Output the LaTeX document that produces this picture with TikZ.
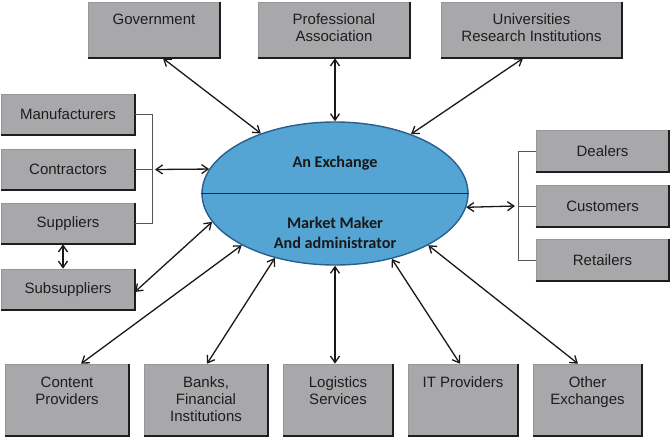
\documentclass[tikz,border=0pt]{standalone}
\usepackage{fontspec}
\setmainfont{Liberation Sans}
\newfontfamily\ellfont{Carlito}
\usetikzlibrary{shapes.geometric,arrows.meta}
\definecolor{boxgray}{RGB}{168,168,171}
\definecolor{boxedge}{RGB}{150,150,152}
\definecolor{shadowc}{RGB}{30,30,32}
\definecolor{textdark}{RGB}{30,30,30}
\definecolor{arrowc}{RGB}{25,25,25}
\definecolor{brkc}{RGB}{85,85,85}
\definecolor{ellblue}{RGB}{84,164,212}
\definecolor{ellline}{RGB}{40,95,145}
\newcommand\boxfnt{\fontsize{15}{17}\selectfont}
\newcommand\ellfnt{\ellfont\bfseries\fontsize{16.2}{20}\selectfont}
\newcommand\shadowedge[1]{\draw[shadowln] (#1.south west) -- (#1.south east) -- (#1.north east);}
\begin{document}
\begin{tikzpicture}[x=1pt,y=-1pt,
  box/.style={draw=boxedge, fill=boxgray, line width=0.6pt, inner sep=0pt,
    font=\boxfnt, text=textdark, align=center},
  topbox/.style={box, minimum width=#1, minimum height=56pt},
  sidebox/.style={box, minimum width=133pt, minimum height=41pt},
  botbox/.style={box, minimum width=#1, minimum height=72pt},
  boxtext/.style={anchor=north, inner sep=0pt, font=\boxfnt, text=textdark, align=center},
  shadowln/.style={draw=shadowc, line width=2pt},
  conn/.style={draw=arrowc, line width=1.3pt,
    {Straight Barb[length=6.5pt,width=9pt]}-{Straight Barb[length=6.5pt,width=9pt]}},
  brk/.style={draw=brkc, line width=0.9pt}]
\useasboundingbox[fill=white] (0,0) rectangle (671,439);

% top boxes
\node[topbox=132pt] (gov) at (154,30) {};
\node[topbox=151pt] (prof) at (334,30) {};
\node[topbox=181pt] (univ) at (531.5,30) {};
\foreach \b in {gov,prof,univ}{\shadowedge{\b}}
\node[boxtext] (govt) at ([yshift=-12]gov.north) {Government};
\node[boxtext] (proft) at ([yshift=-12]prof.north) {Professional\\Association};
\node[boxtext] (univt) at ([yshift=-12]univ.north) {Universities\\Research Institutions};

% left boxes
\node[sidebox] (manu) at (68,114.5) {Manufacturers};
\node[sidebox] (contr) at (68,169.5) {Contractors};
\node[sidebox] (supp) at (68,223.5) {Suppliers};
\node[sidebox] (subs) at (68,289.5) {Subsuppliers};
\foreach \b in {manu,contr,supp,subs}{\shadowedge{\b}}

% right boxes
\node[sidebox] (deal) at (602.5,151) {Dealers};
\node[sidebox] (cust) at (602.5,206) {Customers};
\node[sidebox] (ret) at (602.5,260) {Retailers};
\foreach \b in {deal,cust,ret}{\shadowedge{\b}}

% bottom boxes
\node[botbox=124pt] (cont) at (67,400) {};
\node[botbox=124pt] (bank) at (206,400) {};
\node[botbox=110pt] (logi) at (338,400) {};
\node[botbox=110pt] (itp) at (463,400) {};
\node[botbox=109pt] (oth) at (587.5,400) {};
\foreach \b in {cont,bank,logi,itp,oth}{\shadowedge{\b}}
\node[boxtext] (contt) at ([yshift=-13]cont.north) {Content\\Providers};
\node[boxtext] (bankt) at ([yshift=-13]bank.north) {Banks,\\Financial\\Institutions};
\node[boxtext] (logit) at ([yshift=-13]logi.north) {Logistics\\Services};
\node[boxtext] (itpt) at ([yshift=-13]itp.north) {IT Providers};
\node[boxtext] (otht) at ([yshift=-13]oth.north) {Other\\Exchanges};

% ellipse
\node[ellipse, draw=ellline, line width=1.4pt, fill=ellblue,
  minimum width=266pt, minimum height=143pt, inner sep=0pt] (ell) at (335,193.5) {};
\draw[draw=black!85, line width=1.1pt] (ell.west) -- (ell.east);
\node[font=\ellfnt, text=black!90, inner sep=0pt] (ex) at (335,163) {An Exchange};
\node[font=\ellfnt, text=black!90, inner sep=0pt, align=center] (mm) at (335,233) {Market Maker\\And administrator};

% brackets
\coordinate (lb) at (152,169.5);
\draw[brk] (manu.east) -- (manu.east -| lb) -- (supp.east -| lb) -- (supp.east);
\draw[brk] (contr.east) -- (lb);
\coordinate (rb) at (518,206);
\draw[brk] (deal.west) -- (deal.west -| rb) -- (ret.west -| rb) -- (ret.west);
\draw[brk] (cust.west) -- (rb);

% connectors
\draw[conn] ([xshift=9]gov.south) -- (ell.141);
\draw[conn] ([xshift=1]prof.south) -- (ell.90);
\draw[conn] ([xshift=-8.5]univ.south) -- (ell.38);
\draw[conn] ([xshift=3]lb) -- (ell.169);
\draw[conn] ([yshift=-2.5]subs.east) -- (ell.193);
\draw[conn] ([xshift=-5]supp.south) -- ([xshift=-5]subs.north);
\draw[conn] ([xshift=14]cont.north) -- (ell.209);
\draw[conn] ([xshift=1]bank.north) -- (ell.227);
\draw[conn] ([xshift=-3]logi.north) -- (ell.270);
\draw[conn] ([xshift=-3]itp.north) -- (ell.311);
\draw[conn] ([xshift=-9.5]oth.north) -- (ell.331.5);
\draw[conn] (ell.354.6) -- ([xshift=-3]rb);
\end{tikzpicture}
\end{document}
